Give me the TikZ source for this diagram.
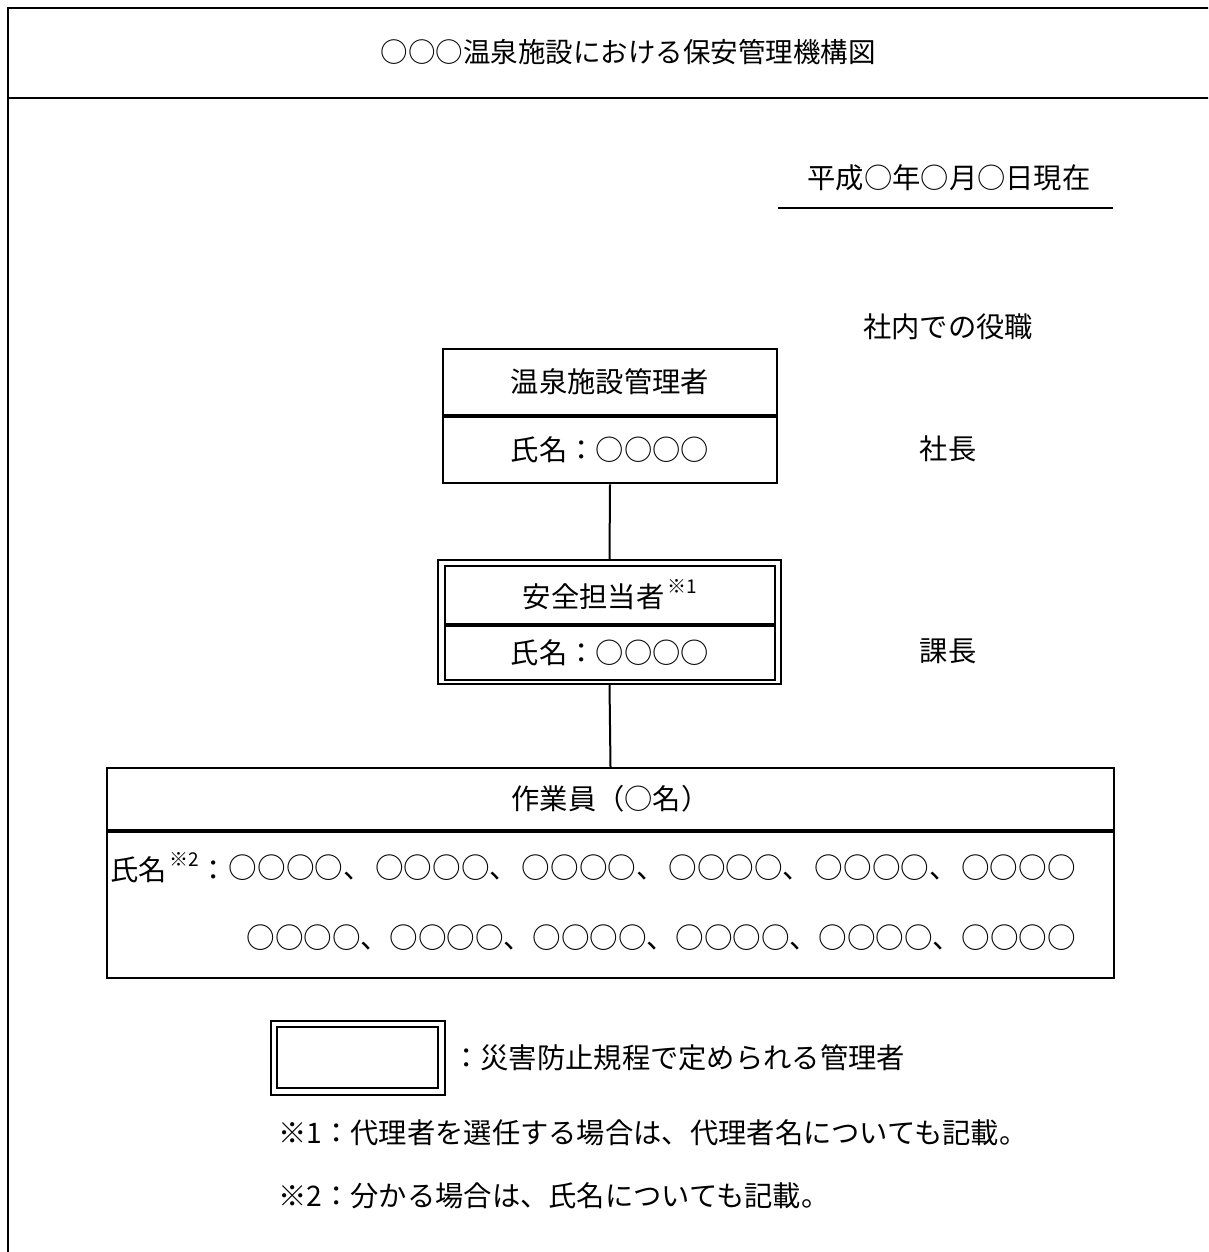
\documentclass[tikz,border=0pt]{standalone}
\usepackage{fontspec}
\setmainfont{Noto Sans CJK JP}
\newcommand{\bodysize}{\fontsize{28.3pt}{30pt}\selectfont}
\newcommand{\rowsize}{\fontsize{28.6pt}{30pt}\selectfont}
\newcommand{\supmark}[1]{\raisebox{0.5em}{\fontsize{19pt}{19pt}\selectfont\,#1}}
\newcommand{\gsep}{、\hspace{3.5pt}}
\tikzset{
  frameline/.style={line width=2.4pt},
  boxpart/.style={draw, line width=2.2pt, inner sep=0pt, font=\bodysize},
  outerline/.style={draw, line width=1.3pt, inner sep=0pt},
  conn/.style={line width=2pt},
  txt/.style={inner sep=0pt, font=\bodysize},
}
\begin{document}
\begin{tikzpicture}[x=1pt,y=-1pt]
\clip (0,0) rectangle (1208,1252);
\fill[white] (0,0) rectangle (1208,1252);
% outer frame (continues past right and bottom edge)
\draw[frameline] (1230,8) -- (8,8) -- (8,1270);
\draw[frameline] (8,98) -- (1230,98);
\node[txt, font=\fontsize{27.5pt}{30pt}\selectfont] (title) at (628,52) {○○○温泉施設における保安管理機構図};
% date
\node[txt] (date) at (949,178) {平成○年○月○日現在};
\draw[line width=2.2pt] (778,208) -- (1113,208);
\node[txt] (role) at (948,327) {社内での役職};
% box 1
\node[boxpart, minimum width=334pt, minimum height=66pt] (b1t) at (610,382) {温泉施設管理者};
\node[boxpart, minimum width=334pt, minimum height=66pt, anchor=north] (b1b) at (b1t.south) {氏名：○○○○};
\node[txt] (r1) at (948,449) {社長};
% box 2 (double frame)
\node[outerline, minimum width=343pt, minimum height=124pt] (b2o) at (609.5,622) {};
\node[boxpart, minimum width=330pt, minimum height=58pt] (b2t) at (610,595) {安全担当者\supmark{※1}};
\node[boxpart, minimum width=330pt, minimum height=54pt, anchor=north] (b2b) at (b2t.south) {氏名：○○○○};
\node[txt] (r2) at (948,651) {課長};
% box 3
\node[boxpart, minimum width=1007pt, minimum height=62pt] (b3t) at (610.5,799) {作業員（○名）};
\node[boxpart, minimum width=1007pt, minimum height=146pt, anchor=north] (b3b) at (b3t.south) {};
\node[txt, anchor=west] (n0) at (110,868) {氏名\supmark{※2}：};
\node[txt, font=\rowsize, anchor=east] (n1) at (1076,868) {○○○○\gsep○○○○\gsep○○○○\gsep○○○○\gsep○○○○\gsep○○○○};
\node[txt, font=\rowsize, anchor=east] (n2) at (1076,938) {○○○○、○○○○、○○○○、○○○○、○○○○、○○○○};
% connectors
\draw[conn] (b1b.south) -- (b2o.north);
\draw[conn] (b2o.south) -- (b3t.north);
% legend
\node[outerline, minimum width=174pt, minimum height=74pt] (lgo) at (358,1058) {};
\node[boxpart, minimum width=161pt, minimum height=61pt] (lgi) at (357.5,1057.5) {};
\node[txt, anchor=west] (lgt) at (452,1058) {：災害防止規程で定められる管理者};
\node[txt, anchor=west] (f1) at (278,1133) {※1：代理者を選任する場合は、代理者名についても記載。};
\node[txt, anchor=west] (f2) at (278,1196) {※2：分かる場合は、氏名についても記載。};
\end{tikzpicture}
\end{document}
